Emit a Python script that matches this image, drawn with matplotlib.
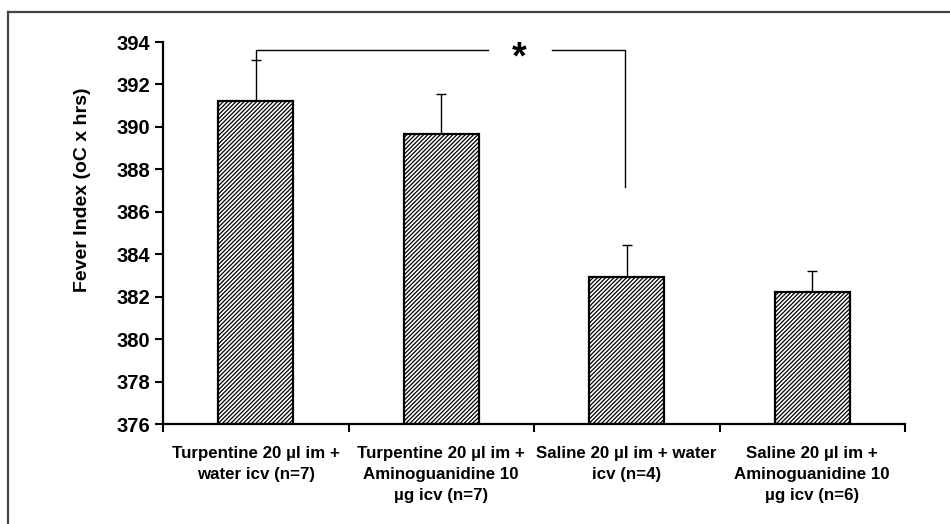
import matplotlib.pyplot as plt
from matplotlib.lines import Line2D

# group labels, means and upper error (SEM)
groups = [
    "Turpentine 20 \u00b5l im +\nwater icv (n=7)",
    "Turpentine 20 \u00b5l im +\nAminoguanidine 10\n\u00b5g icv (n=7)",
    "Saline 20 \u00b5l im + water\nicv (n=4)",
    "Saline 20 \u00b5l im +\nAminoguanidine 10\n\u00b5g icv (n=6)",
]
fever_index = [391.23, 389.66, 382.94, 382.23]
sem = [1.92, 1.87, 1.48, 0.99]
y_ticks = [376, 378, 380, 382, 384, 386, 388, 390, 392, 394]

plt.rcParams['font.family'] = ['Liberation Sans', 'DejaVu Sans']
plt.rcParams['font.weight'] = 'bold'
plt.rcParams['hatch.linewidth'] = 0.9

fig = plt.figure(figsize=(9.5, 5.24), dpi=100)
ax = fig.add_axes([163 / 950, 1 - 424 / 524, (905 - 163) / 950, (424 - 42) / 524])

x = list(range(len(groups)))
ax.bar(x, [v - 376 for v in fever_index], bottom=376, width=0.404,
       color='white', edgecolor='black', linewidth=1.6, hatch='////////', zorder=2)
ax.errorbar(x, fever_index, yerr=[[0] * len(sem), sem], fmt='none',
            ecolor='black', elinewidth=1.0, capsize=3.5, capthick=1.0, zorder=1)

ax.set_xlim(-0.5, len(groups) - 0.5)
ax.set_ylim(376, 394)
ax.set_yticks(y_ticks)
ax.set_yticklabels([str(t) for t in y_ticks], fontsize=14.5, fontweight='bold')

# tick marks at the category boundaries, labels centred under the bars
ax.set_xticks([i - 0.5 for i in range(len(groups) + 1)])
ax.set_xticklabels([])
ax.set_xticks(x, minor=True)
ax.set_xticklabels(groups, minor=True, fontsize=12.2, fontweight='bold', linespacing=1.5)
ax.tick_params(axis='x', which='minor', length=0, pad=16)
ax.tick_params(axis='both', which='major', direction='out', length=5.5, width=1.5)
ax.tick_params(axis='y', pad=4)

for side in ['top', 'right']:
    ax.spines[side].set_visible(False)
for side in ['left', 'bottom']:
    ax.spines[side].set_linewidth(1.6)

ax.set_ylabel('Fever Index (oC x hrs)', fontsize=14, fontweight='bold')
ax.yaxis.set_label_coords(-0.097, 0.613)

# significance bracket between group 1 and group 3
top = 393.62
ax.plot([x[0], x[0], 1.25], [fever_index[0] + sem[0], top, top], color='black', lw=1.0,
        clip_on=False)
ax.plot([1.597, 1.99, 1.99], [top, top, 387.18], color='black', lw=1.0, clip_on=False)
ax.text(1.42, top - 0.4, '*', ha='center', va='center', fontsize=27, fontweight='bold')

# outer frame (only top and left edges show in the crop)
fig.add_artist(Line2D([8 / 950, 8 / 950], [0, 1 - 12 / 524], color='#444444', lw=1.6))
fig.add_artist(Line2D([8 / 950, 1], [1 - 12 / 524, 1 - 12 / 524], color='#444444', lw=1.6))

fig.savefig('out.png', dpi=100)
